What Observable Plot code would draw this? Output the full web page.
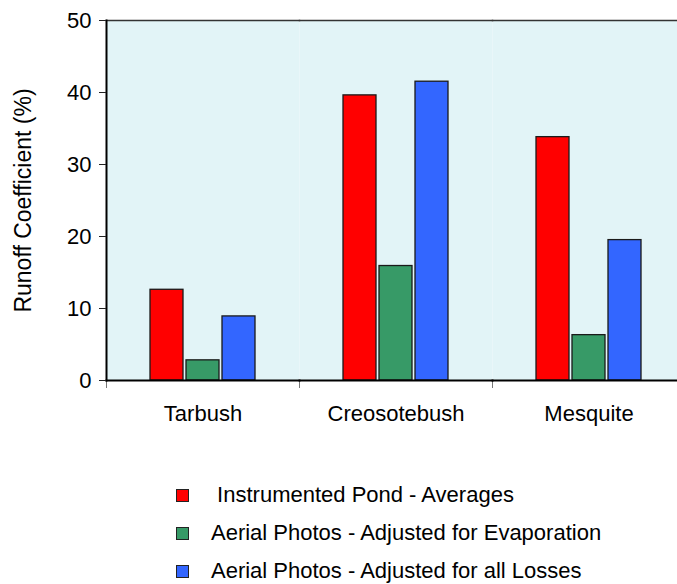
<!DOCTYPE html>
<html><head><meta charset="utf-8">
<script src="https://cdn.jsdelivr.net/npm/d3@7"></script>
<script src="https://cdn.jsdelivr.net/npm/@observablehq/plot@0.6"></script>
<style>
html,body{margin:0;padding:0;background:#fff;overflow:hidden;}
body{font-family:"Liberation Sans",Arial,sans-serif;}
#legend{margin-top:36px;}
.row{display:flex;align-items:center;height:38px;font-size:22px;color:#000;white-space:pre;}
.sw{width:11px;height:11px;border:1px solid #222;margin-left:176px;margin-right:22px;flex:none;}
</style></head><body><div id="chart"></div><div id="legend"></div>
<script>
const categories = ["Tarbush", "Creosotebush", "Mesquite"];
const series = ["Instrumented Pond - Averages", "Aerial Photos - Adjusted for Evaporation", "Aerial Photos - Adjusted for all Losses"];
const legendLabels = [" Instrumented Pond - Averages", "Aerial Photos - Adjusted for Evaporation", "Aerial Photos - Adjusted for all Losses"];
const instrumented = [12.6, 39.6, 33.8];
const evaporation = [2.8, 15.9, 6.3];
const allLosses = [8.9, 41.5, 19.5];
const yTicks = [0, 10, 20, 30, 40, 50];
const yLabel = "Runoff Coefficient (%)";
const colors = ["#ff0000", "#379a67", "#3366ff"];

const valuesBySeries = [instrumented, evaporation, allLosses];
const data = [];
categories.forEach((c, i) => series.forEach((s, j) => data.push({category: c, series: s, value: valuesBySeries[j][i]})));

const chart = Plot.plot({
  width: 677,
  height: 440,
  marginTop: 20,
  marginBottom: 60,
  marginLeft: 106,
  marginRight: 0,
  style: {fontSize: "22px", fontFamily: "'Liberation Sans', Arial, sans-serif", color: "#000", background: "#fff"},
  fx: {domain: categories, range: [106, 685], padding: 0},
  x: {domain: series, axis: null, paddingInner: 0.09, paddingOuter: 0, insetLeft: 44, insetRight: 44},
  y: {domain: [0, 50]},
  color: {domain: series, range: colors},
  marks: [
    Plot.frame({fill: "#e2f4f7", stroke: "none"}),
    Plot.frame({anchor: "top", stroke: "#333", strokeWidth: 1.5}),
    Plot.frame({anchor: "left", stroke: "#777", strokeWidth: 1, insetTop: 360, insetBottom: -7}),
    Plot.frame({anchor: "left", stroke: "#000", strokeWidth: 2, facetAnchor: "left"}),
    Plot.barY(data, {fx: "category", x: "series", y: "value", fill: "series", stroke: "#1a1a1a", strokeWidth: 1.3}),
    Plot.frame({anchor: "bottom", stroke: "#000", strokeWidth: 2}),
    Plot.axisY({ticks: yTicks, tickSize: 7, tickPadding: 8, stroke: "#222", label: null}),
    Plot.axisY({ticks: [], tickSize: 0, label: yLabel, labelAnchor: "center", labelArrow: false, labelOffset: 92, fontSize: 23}),
    Plot.axisFx({anchor: "bottom", tickSize: 0, tickPadding: 25, label: null})
  ]
});
document.getElementById("chart").appendChild(chart);

const legend = document.getElementById("legend");
series.forEach((s, i) => {
  const row = document.createElement("div");
  row.className = "row";
  const sw = document.createElement("span");
  sw.className = "sw";
  sw.style.background = colors[i];
  const t = document.createElement("span");
  t.textContent = legendLabels[i];
  row.appendChild(sw); row.appendChild(t);
  legend.appendChild(row);
});
</script></body></html>
